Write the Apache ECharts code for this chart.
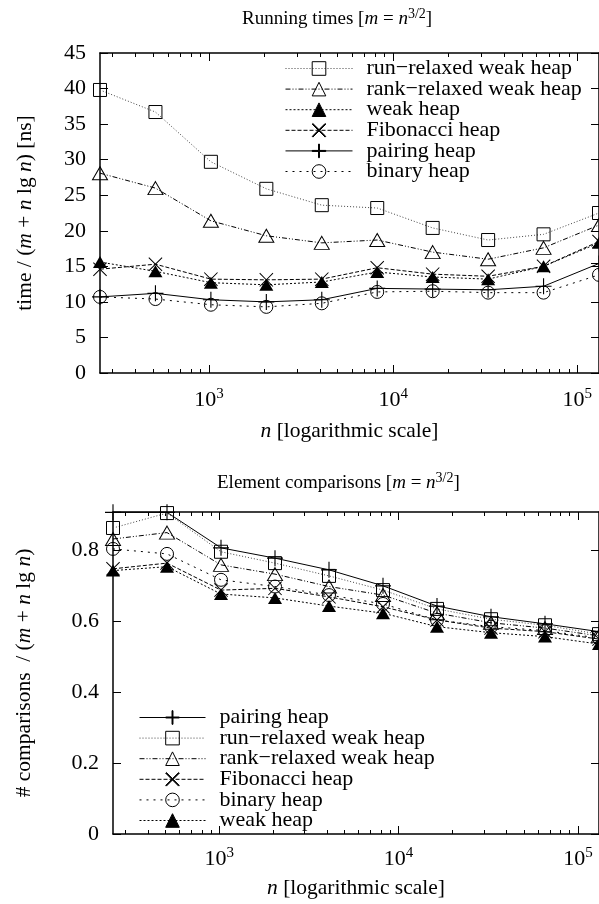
<!DOCTYPE html>
<html>
<head>
<meta charset="utf-8">
<script src="https://cdn.jsdelivr.net/npm/echarts@6/dist/echarts.min.js"></script>
<style>
  html, body { margin: 0; padding: 0; background: #fff; }
  #chart { width: 599px; height: 904px; }
</style>
</head>
<body>
<div id="chart"></div>
<script>
// problem sizes n (x axis, log scale)
const nValues = [256, 512, 1024, 2048, 4096, 8192, 16384, 32768, 65536, 131072]

// running times, ns per (m + n lg n)
const runRelaxedTime = [39.8, 36.7, 29.7, 25.9, 23.6, 23.2, 20.4, 18.7, 19.5, 22.5]
const rankRelaxedTime = [28.1, 26.0, 21.4, 19.3, 18.3, 18.7, 17.0, 16.0, 17.6, 20.8]
const weakTime = [15.6, 14.3, 12.7, 12.4, 12.8, 14.2, 13.5, 13.2, 15.0, 18.3]
const fibonacciTime = [14.6, 15.3, 13.2, 13.1, 13.2, 14.8, 13.9, 13.6, 15.0, 18.5]
const pairingTime = [10.7, 11.2, 10.3, 10.0, 10.3, 11.9, 11.8, 11.7, 12.2, 15.4]
const binaryTime = [10.7, 10.4, 9.6, 9.3, 9.8, 11.4, 11.5, 11.3, 11.3, 13.8]

// element comparisons per (m + n lg n)
const pairingCmp = [0.906, 0.906, 0.806, 0.777, 0.744, 0.699, 0.642, 0.612, 0.592, 0.570]
const runRelaxedCmp = [0.862, 0.904, 0.795, 0.763, 0.727, 0.687, 0.634, 0.605, 0.588, 0.563]
const rankRelaxedCmp = [0.831, 0.849, 0.758, 0.732, 0.697, 0.673, 0.622, 0.595, 0.580, 0.558]
const fibonacciCmp = [0.747, 0.763, 0.687, 0.692, 0.668, 0.640, 0.603, 0.580, 0.570, 0.549]
const binaryCmp = [0.803, 0.789, 0.716, 0.697, 0.673, 0.648, 0.603, 0.584, 0.573, 0.552]
const weakCmp = [0.742, 0.753, 0.676, 0.665, 0.642, 0.622, 0.584, 0.567, 0.556, 0.535]

// tick values
const xMajorTicks = [1000, 10000, 100000]
const xMinorTicks = [300, 400, 500, 600, 700, 800, 900, 2000, 3000, 4000, 5000, 6000, 7000, 8000, 9000,
    20000, 30000, 40000, 50000, 60000, 70000, 80000, 90000]
const timeTicks = [0, 5, 10, 15, 20, 25, 30, 35, 40, 45]
const cmpTicks = [0, 0.2, 0.4, 0.6, 0.8]

const RUN = 'run\u2212relaxed weak heap'
const RANK = 'rank\u2212relaxed weak heap'
const WEAK = 'weak heap'
const FIB = 'Fibonacci heap'
const PAIR = 'pairing heap'
const BIN = 'binary heap'

const FONT = 'Liberation Serif'
const FS = 22
const PLUS = 'path://M9.3,0h1.4v9.3h9.3v1.4h-9.3v9.3h-1.4v-9.3h-9.3v-1.4h9.3z'
const CROSS = 'path://M1,0L10,9L19,0L20,1L11,10L20,19L19,20L10,11L1,20L0,19L9,10L0,1z'

const heapStyles = {}
heapStyles[RUN] = { symbol: 'rect', size: 13, dash: [1, 2], color: '#444', fill: 'rgba(0,0,0,0)', border: 1 }
heapStyles[RANK] = { symbol: 'triangle', size: [15, 13], dash: [5, 2, 1, 2, 1, 2], color: '#000', fill: 'rgba(0,0,0,0)', border: 1 }
heapStyles[WEAK] = { symbol: 'triangle', size: [14, 12], dash: [2, 2], color: '#000', fill: '#000', border: 0 }
heapStyles[FIB] = { symbol: CROSS, size: 14, dash: [4, 2], color: '#000', fill: '#000', border: 0 }
heapStyles[PAIR] = { symbol: PLUS, size: 16, dash: 'solid', color: '#000', fill: '#000', border: 0 }
heapStyles[BIN] = { symbol: 'circle', size: 13, dash: [2, 5], color: '#000', fill: 'rgba(0,0,0,0)', border: 1 }

function richText(size) {
    return {
        i: { fontFamily: FONT, fontSize: size, fontStyle: 'italic', color: '#000' },
        sup: { fontFamily: FONT, fontSize: Math.round(size * 0.72), verticalAlign: 'top', lineHeight: 13, color: '#000' },
    }
}

function makeSeries(name, values, xIdx, yIdx) {
    const s = heapStyles[name]
    return {
        type: 'line',
        name: name,
        xAxisIndex: xIdx,
        yAxisIndex: yIdx,
        data: nValues.map((n, i) => [n, values[i]]),
        symbol: s.symbol,
        symbolSize: s.size,
        clip: false,
        animation: false,
        lineStyle: { color: s.color, width: 1, type: s.dash },
        itemStyle: { color: s.fill, borderColor: '#000', borderWidth: s.border },
        emphasis: { disabled: true },
    }
}

function powerLabel(v) {
    return '10{sup|' + Math.round(Math.log10(v)) + '}'
}

// four x axes per grid: bottom major/minor, top major/minor
function makeXAxes(gridIndex) {
    const base = { type: 'log', logBase: 10, min: 256, max: 131072, gridIndex: gridIndex, splitLine: { show: false } }
    return [
        Object.assign({}, base, {
            position: 'bottom',
            name: '{i|n} [logarithmic scale]',
            nameLocation: 'middle',
            nameGap: gridIndex === 0 ? 47 : 43,
            nameTextStyle: { fontFamily: FONT, fontSize: 21.5, color: '#000', rich: richText(21.5) },
            axisLine: { show: true, lineStyle: { color: '#000', width: 1.5 } },
            axisTick: { show: true, inside: true, length: 8, customValues: xMajorTicks, lineStyle: { color: '#000' } },
            axisLabel: {
                customValues: xMajorTicks, formatter: powerLabel, margin: gridIndex === 0 ? 14 : 12,
                fontFamily: FONT, fontSize: FS, color: '#000', lineHeight: 26,
                rich: { sup: { fontFamily: FONT, fontSize: 15, verticalAlign: 'top', lineHeight: 15, color: '#000' } },
            },
        }),
        Object.assign({}, base, {
            position: 'bottom',
            axisLine: { show: false },
            axisTick: { show: true, inside: true, length: 4, customValues: xMinorTicks, lineStyle: { color: '#000' } },
            axisLabel: { show: false },
        }),
        Object.assign({}, base, {
            position: 'top',
            axisLine: { show: true, lineStyle: { color: '#000', width: 1.5 } },
            axisTick: { show: true, inside: true, length: 8, customValues: xMajorTicks, lineStyle: { color: '#000' } },
            axisLabel: { show: false },
        }),
        Object.assign({}, base, {
            position: 'top',
            axisLine: { show: false },
            axisTick: { show: true, inside: true, length: 4, customValues: xMinorTicks, lineStyle: { color: '#000' } },
            axisLabel: { show: false },
        }),
    ]
}

function makeYAxes(gridIndex, max, ticks, name, gap, fmt) {
    return [
        {
            type: 'value', gridIndex: gridIndex, min: 0, max: max, position: 'left',
            name: name, nameLocation: 'middle', nameRotate: 90, nameGap: gap,
            nameTextStyle: { fontFamily: FONT, fontSize: 21.5, color: '#000', rich: richText(21.5) },
            splitLine: { show: false },
            axisLine: { show: true, lineStyle: { color: '#000', width: 1.5 } },
            axisTick: { show: true, inside: true, length: 8, customValues: ticks, lineStyle: { color: '#000' } },
            axisLabel: { customValues: ticks, formatter: fmt, margin: 14, fontFamily: FONT, fontSize: FS, color: '#000' },
        },
        {
            type: 'value', gridIndex: gridIndex, min: 0, max: max, position: 'right',
            splitLine: { show: false },
            axisLine: { show: true, lineStyle: { color: '#000', width: 1.5 } },
            axisTick: { show: true, inside: true, length: 8, customValues: ticks, lineStyle: { color: '#000' } },
            axisLabel: { show: false },
        },
    ]
}

const legendCommon = {
    orient: 'vertical',
    padding: 0,
    itemWidth: 67,
    itemHeight: 17,
    itemGap: -1.4,
    selectedMode: false,
    align: 'left',
    textStyle: { fontFamily: FONT, fontSize: FS, color: '#000', lineHeight: 17, padding: [0, 0, 0, 9] },
    lineStyle: { width: 1 },
    itemStyle: { borderWidth: 1 },
}

const titleStyle = { fontFamily: FONT, fontSize: 19, fontWeight: 'normal', color: '#000', lineHeight: 24, rich: richText(19) }

const option = {
    backgroundColor: '#fff',
    animation: false,
    title: [
        { text: 'Running times [{i|m} = {i|n}{sup|3/2}]', left: 242, top: 7, padding: 0, textStyle: titleStyle },
        { text: 'Element comparisons [{i|m} = {i|n}{sup|3/2}]', left: 217, top: 471, padding: 0, textStyle: titleStyle },
    ],
    legend: [
        Object.assign({}, legendCommon, { left: 285, top: 57.5, data: [RUN, RANK, WEAK, FIB, PAIR, BIN] }),
        Object.assign({}, legendCommon, { left: 139, top: 706.5, itemWidth: 66, data: [PAIR, RUN, RANK, FIB, BIN, WEAK] }),
    ],
    grid: [
        { left: 100, top: 53, width: 500, height: 320 },
        { left: 113, top: 512, width: 488, height: 322 },
    ],
    xAxis: makeXAxes(0).concat(makeXAxes(1)),
    yAxis: makeYAxes(0, 45, timeTicks, 'time / ({i|m} + {i|n} lg {i|n}) [ns]', 64, v => String(v))
        .concat(makeYAxes(1, 0.907, cmpTicks, '# comparisons  / ({i|m} + {i|n} lg {i|n})', 78, v => (v === 0 ? '0' : v.toFixed(1)))),
    series: [
        makeSeries(RUN, runRelaxedTime, 0, 0),
        makeSeries(RANK, rankRelaxedTime, 0, 0),
        makeSeries(WEAK, weakTime, 0, 0),
        makeSeries(FIB, fibonacciTime, 0, 0),
        makeSeries(PAIR, pairingTime, 0, 0),
        makeSeries(BIN, binaryTime, 0, 0),
        makeSeries(PAIR, pairingCmp, 4, 2),
        makeSeries(RUN, runRelaxedCmp, 4, 2),
        makeSeries(RANK, rankRelaxedCmp, 4, 2),
        makeSeries(FIB, fibonacciCmp, 4, 2),
        makeSeries(BIN, binaryCmp, 4, 2),
        makeSeries(WEAK, weakCmp, 4, 2),
    ],
}

const myChart = echarts.init(document.getElementById('chart'), null, { renderer: 'canvas' })
myChart.setOption(option)
</script>
</body>
</html>
